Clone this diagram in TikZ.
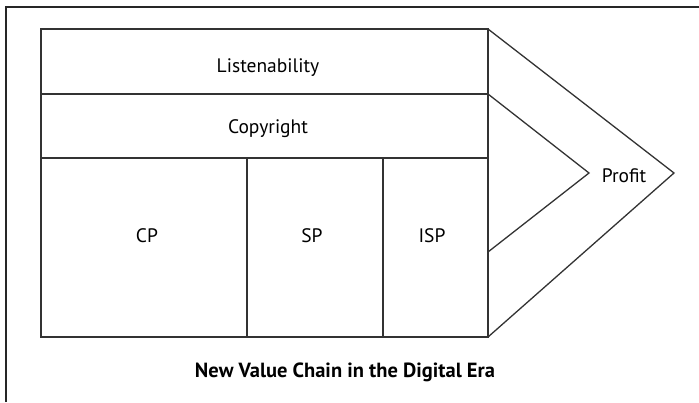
\documentclass[tikz,border=0pt]{standalone}
\usepackage{fontspec}
\setmainfont{PT Sans}
\usetikzlibrary{positioning}

\begin{document}
\begin{tikzpicture}[x=1pt,y=-1pt]

\tikzset{cell/.style = {draw=black!80, line width=1.3pt}}
\tikzset{lbl/.style = {inner sep=0pt, font=\fontsize{19.5}{22}\selectfont}}
\tikzset{ttl/.style = {inner sep=0pt, font=\fontsize{20.5}{24}\selectfont\bfseries}}

\useasboundingbox (0,0) rectangle (699,402);
% frame
\draw[line width=2pt, black!85] (6,402) -- (6,7) -- (699,7);
% corners
\coordinate (nw) at (41,29);
\coordinate (ne) at (488,29);
\coordinate (sw) at (41,337);
\coordinate (se) at (488,337);
% cells
\draw[cell] (nw) rectangle (se);
\draw[cell] (41,94) -- (488,94);
\draw[cell] (41,158) -- (488,158);
\draw[cell] (247,158) -- (247,337);
\draw[cell] (383,158) -- (383,337);
% chevron
\coordinate (tip) at (674,173);
\coordinate (notch) at (589,173);
\draw[cell, line join=miter] (ne) -- (tip) -- (se);
\draw[cell, line join=miter] (488,94) -- (notch) -- (488,252);
% labels
\node[lbl] (listen) at (268,68) {Listenability};
\node[lbl] (copy) at (268,129) {Copyright};
\node[lbl] (cp) at (147,236) {CP};
\node[lbl] (sp) at (312,236) {SP};
\node[lbl] (isp) at (432,236) {ISP};
\node[lbl] (profit) at (624,176) {Profit};
\node[ttl] (title) at (345,372) {New Value Chain in the Digital Era};

\end{tikzpicture}
\end{document}
